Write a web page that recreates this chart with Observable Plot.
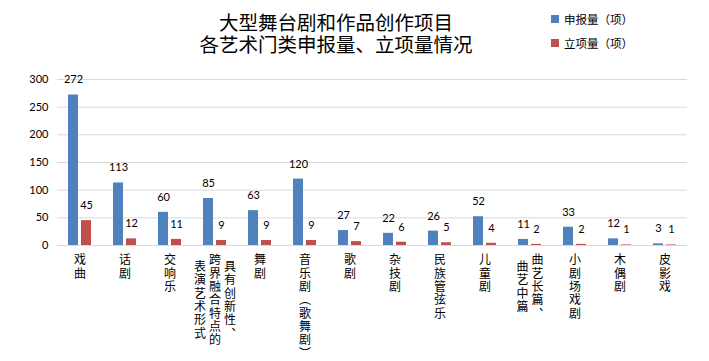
<!DOCTYPE html>
<html>
<head>
<meta charset="utf-8">
<script src="https://cdn.jsdelivr.net/npm/d3@7"></script>
<script src="https://cdn.jsdelivr.net/npm/@observablehq/plot@0.6"></script>
<style>
  html, body { margin: 0; padding: 0; background: #fff; }
  #wrap { position: relative; width: 709px; height: 361px; overflow: hidden; }
  #chart { position: absolute; left: 0; top: 0; }
  #title { position: absolute; left: 0; top: 11px; width: 672px; text-align: center;
           font-family: "Noto Sans CJK SC", sans-serif; font-size: 19.5px; line-height: 21.5px; color: #000; }
  .lg { position: absolute; left: 551px; height: 8px; display: flex; align-items: center;
        font-family: "Noto Sans CJK SC", sans-serif; font-size: 11.5px; color: #000; white-space: nowrap; }
  .lg span.sw { display: inline-block; width: 8px; height: 8px; margin-right: 5px; }
</style>
</head>
<body>
<div id="wrap">
  <div id="chart"></div>
  <div id="title">大型舞台剧和作品创作项目<br>各艺术门类申报量、立项量情况</div>
  <div id="legend"></div>
</div>
<script>
const categories = ["戏曲", "话剧", "交响乐", "具有创新性、跨界融合特点的表演艺术形式", "舞剧", "音乐剧（歌舞剧）", "歌剧", "杂技剧", "民族管弦乐", "儿童剧", "曲艺长篇、曲艺中篇", "小剧场戏剧", "木偶剧", "皮影戏"];
const applied = [272, 113, 60, 85, 63, 120, 27, 22, 26, 52, 11, 33, 12, 3];
const approved = [45, 12, 11, 9, 9, 9, 7, 6, 5, 4, 2, 2, 1, 1];
const series = ["申报量（项）", "立项量（项）"];
const colors = ["#4F81BD", "#C0504D"];
const yTicks = [0, 50, 100, 150, 200, 250, 300];
// tick label columns, listed right to left (vertical writing)
const tickLabels = [["戏曲"], ["话剧"], ["交响乐"], ["具有创新性、", "跨界融合特点的", "表演艺术形式"], ["舞剧"], ["音乐剧（歌舞剧）"], ["歌剧"], ["杂技剧"], ["民族管弦乐"], ["儿童剧"], ["曲艺长篇、", "曲艺中篇"], ["小剧场戏剧"], ["木偶剧"], ["皮影戏"]];

const data = [];
categories.forEach((c, i) => {
  data.push({category: c, series: series[0], value: applied[i]});
  data.push({category: c, series: series[1], value: approved[i]});
});

const vmap = {"（": "︵", "）": "︶", "、": "︑"};
const toVertical = s => [...s].map(ch => vmap[ch] ?? ch).join("\n");
const colGap = 15, pitch = 13.3, labelFont = 12;

const groups = new Map();
categories.forEach((c, i) => {
  const cols = tickLabels[i];
  const m = cols.length;
  const maxLen = d3.max(cols, s => [...s].length);
  cols.forEach((s, k) => {
    const dx = ((m - 1) / 2 - k) * colGap;
    const dy = (maxLen - [...s].length) * pitch / 2;
    const key = dx + "|" + dy;
    if (!groups.has(key)) groups.set(key, {dx, dy, rows: []});
    groups.get(key).rows.push({category: c, text: toVertical(s)});
  });
});

const labelMarks = [...groups.values()].map(g =>
  Plot.text(g.rows, {
    fx: "category", text: "text", frameAnchor: "bottom", lineAnchor: "top",
    dx: g.dx, dy: 9.5 + g.dy, lineHeight: pitch / labelFont,
    fontFamily: "Noto Sans CJK SC", fontSize: labelFont, fill: "#000"
  })
);

const plot = Plot.plot({
  width: 709, height: 361,
  marginLeft: 52, marginRight: 17, marginTop: 79, marginBottom: 116,
  style: {fontFamily: "Lato", fontSize: "11px", color: "#000", background: "#fff"},
  fx: {domain: categories, padding: 0, axis: null, label: null},
  x: {domain: series, paddingInner: 0.24, paddingOuter: 0.79, axis: null},
  y: {domain: [0, 300], ticks: yTicks, tickSize: 0, tickPadding: 9, label: null},
  color: {domain: series, range: colors},
  marks: [
    Plot.gridY(yTicks, {stroke: "#d9d9d9", strokeOpacity: 1}),
    Plot.barY(data, {fx: "category", x: "series", y: "value", fill: "series"}),
    Plot.text(data, {fx: "category", x: "series", y: "value", text: d => String(d.value),
      lineAnchor: "bottom", dy: -11.5, fill: "#000"}),
    ...labelMarks
  ]
});
document.getElementById("chart").appendChild(plot);

const legend = document.getElementById("legend");
series.forEach((s, i) => {
  const item = document.createElement("div");
  item.className = "lg";
  item.style.top = (15 + i * 23.5) + "px";
  item.innerHTML = `<span class="sw" style="background:${colors[i]}"></span><span>${s}</span>`;
  legend.appendChild(item);
});
</script>
</body>
</html>
